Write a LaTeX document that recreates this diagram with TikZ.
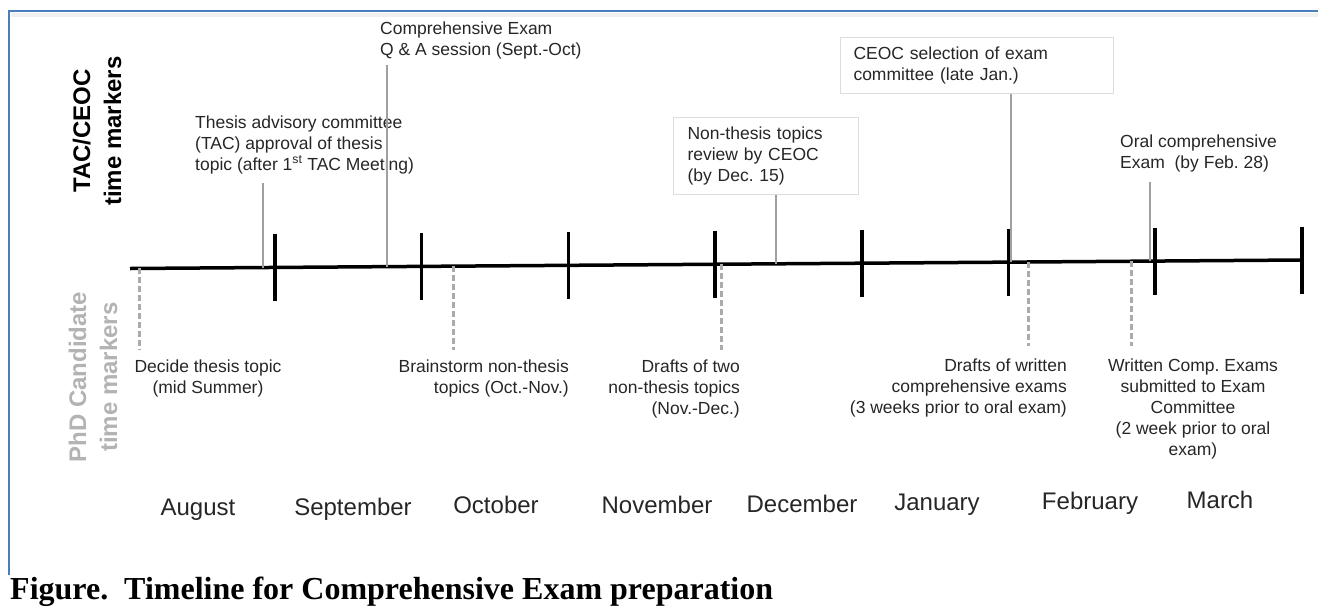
\documentclass[tikz,border=0pt]{standalone}
\usepackage{fontspec}
\setmainfont{Liberation Sans}
\newfontfamily\capfont{Liberation Serif}
\usepackage{tikz}
\usetikzlibrary{calc}
\frenchspacing
\definecolor{frameblue}{HTML}{4A7EBB}
\definecolor{markgrey}{HTML}{A0A0A0}
\definecolor{phdgrey}{HTML}{ABABAB}
\definecolor{sidegrey}{HTML}{B3B3B3}
\definecolor{boxgrey}{HTML}{DDDDDD}
\tikzset{
  timeline/.style={line width=3.5pt, draw=black},
  tickline/.style={line width=3.5pt, draw=black},
  tacmark/.style={line width=2.5pt, draw=markgrey},
  phdmark/.style={line width=3pt, draw=phdgrey, dash pattern=on 6pt off 3pt},
  lbl/.style={inner sep=0pt, text=black!85, font=\fontsize{17.5}{21}\selectfont},
  notebox/.style={
    lbl,
    anchor=north west,
    align=left,
    draw=boxgrey,
    line width=1pt,
    inner ysep=0pt
    },
  month/.style={inner sep=0pt, anchor=base, text=black!85, font=\fontsize{24}{28}\selectfont},
  side/.style={rotate=90, align=center, inner sep=0pt, font=\bfseries\fontsize{24}{31}\selectfont},
}

\begin{document}
\begin{tikzpicture}[x=1pt, y=-1pt]
\useasboundingbox (0,0) rectangle (1318,606);
% frame
\draw[black!6, line width=4pt] (11,14.5) -- (1318,14.5);
\draw[frameblue, line width=2pt] (9,575) -- (9,11) -- (1318,11);

% side titles
\node (tac) [side] at (97,131) {TAC/CEOC\\time markers};
\node (phd) [side, text=sidegrey] at (93,377) {PhD Candidate\\time markers};

% main time line and month ticks
\coordinate (tlL) at (130,268.5);
\coordinate (tlR) at (1302,260);
\draw[timeline] (tlL) -- (tlR);
\foreach \k in {0,...,7}
  \draw[tickline] ($(tlL)!{(145+146.7*\k)/1172}!(tlR)$) ++(0,-33.5) -- ++(0,67);

% TAC/CEOC labels (base = last line)
\node (tacmeet) [lbl, align=left, anchor=base west] at (195,170)
  {Thesis advisory committee\\(TAC) approval of thesis\\topic (after 1\textsuperscript{st} TAC Meeting)};
\node (qa) [lbl, align=left, anchor=base west] at (380,55)
  {Comprehensive Exam\\Q \& A session (Sept.-Oct)};
\node (review) [notebox, text width=157pt, inner xsep=14pt, minimum height=77pt] at (673,117)
  {Non-thesis topics\\review by CEOC\\(by Dec. 15)};
\node (select) [notebox, text width=247pt, inner xsep=13pt, minimum height=56pt] at (840,37)
  {CEOC selection of exam\\committee (late Jan.)};
\node (oral) [lbl, align=left, anchor=base west] at (1120,168)
  {Oral comprehensive\\Exam~~(by Feb. 28)};

\coordinate (tacA) at ($(tlL)!0.1135!(tlR)$);
\coordinate (tacB) at ($(tlL)!0.2193!(tlR)$);
\coordinate (tacC) at ($(tlL)!0.5512!(tlR)$);
\coordinate (tacD) at ($(tlL)!0.7517!(tlR)$);
\coordinate (tacE) at ($(tlL)!0.8703!(tlR)$);
\draw[tacmark, shorten <=9pt] (tacmeet.south -| tacA) -- (tacA);
\draw[tacmark, shorten <=6pt] (qa.south -| tacB) -- (tacB);
\draw[tacmark] (review.south -| tacC) -- (tacC);
\draw[tacmark] (select.south -| tacD) -- (tacD);
\draw[tacmark, shorten <=10pt] (oral.south -| tacE) -- (tacE);

% PhD candidate labels (base = last line)
\node (decide) [lbl, align=center, anchor=base] at (208,393)
  {Decide thesis topic\\(mid Summer)};
\node (brain) [lbl, align=right, anchor=base east] at (569,393)
  {Brainstorm non-thesis\\topics (Oct.-Nov.)};
\node (drafttwo) [lbl, align=right, anchor=base east] at (740,414)
  {Drafts of two\\non-thesis topics\\(Nov.-Dec.)};
\node (draftwr) [lbl, align=right, anchor=base east] at (1067,413)
  {Drafts of written\\comprehensive exams\\(3 weeks prior to oral exam)};
\node (submit) [lbl, align=center, anchor=base] at (1193,455)
  {Written Comp. Exams\\submitted to Exam\\Committee\\(2 week prior to oral\\exam)};

\coordinate (phdA) at ($(tlL)!0.0077!(tlR)$);
\coordinate (phdB) at ($(tlL)!0.2756!(tlR)$);
\coordinate (phdC) at ($(tlL)!0.5043!(tlR)$);
\coordinate (phdD) at ($(tlL)!0.7662!(tlR)$);
\coordinate (phdE) at ($(tlL)!0.8549!(tlR)$);
\draw[phdmark, shorten >=9pt] (phdA) -- (phdA |- decide.north);
\draw[phdmark, shorten >=9pt] (phdB) -- (phdB |- brain.north);
\draw[phdmark, shorten >=9pt] (phdC) -- (phdC |- drafttwo.north);
\draw[phdmark, shorten >=12pt] (phdD) -- (phdD |- draftwr.north);
\draw[phdmark, shorten >=12pt] (phdE) -- (phdE |- submit.north);

% months
\node (aug) [month] at (198,515) {August};
\node (sep) [month] at (353,515) {September};
\node (oct) [month] at (496,513) {October};
\node (nov) [month] at (657,513) {November};
\node (dec) [month] at (802,512) {December};
\node (jan) [month] at (937,510) {January};
\node (feb) [month] at (1090,509) {February};
\node (mar) [month] at (1220,508) {March};

% caption
\node (cap) [inner sep=0pt, anchor=base west, font=\capfont\bfseries\fontsize{32}{36}\selectfont] at (10,599)
  {Figure.\ \ Timeline for Comprehensive Exam preparation};
\end{tikzpicture}
\end{document}
